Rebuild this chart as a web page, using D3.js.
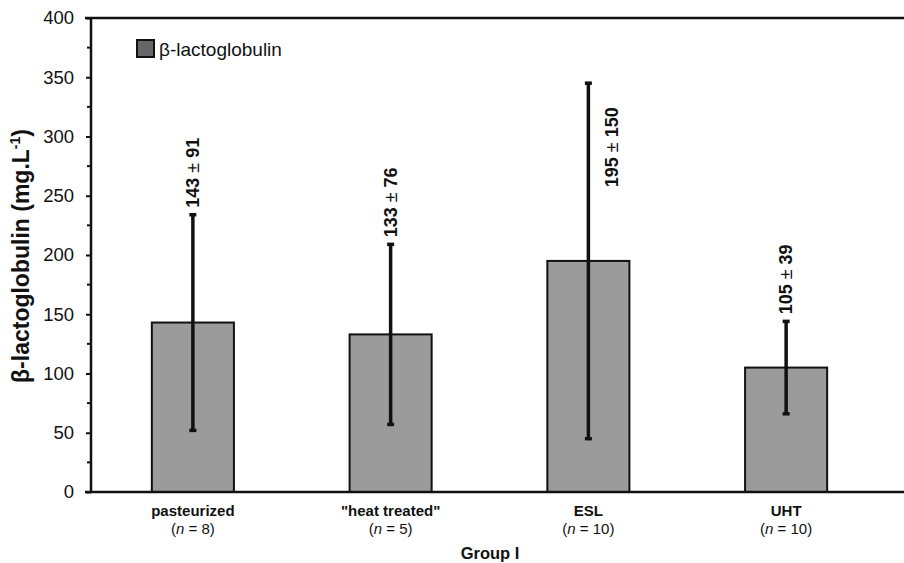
<!DOCTYPE html>
<html>
<head>
<meta charset="utf-8">
<script src="https://cdn.jsdelivr.net/npm/d3@7"></script>
<style>
  body { margin: 0; background: #fff; }
  text { font-family: "Liberation Sans", Arial, sans-serif; }
</style>
</head>
<body>
<div id="chart"></div>
<script>
// data
const categories = ["pasteurized", "\"heat treated\"", "ESL", "UHT"];
const sampleSizes = [8, 5, 10, 10];
const means = [143, 133, 195, 105];
const sds = [91, 76, 150, 39];
const yTicks = [0, 50, 100, 150, 200, 250, 300, 350, 400];

const width = 904, height = 563;
const margin = { top: 18, left: 91, bottom: 71 };

const svg = d3.select("#chart").append("svg")
    .attr("width", width)
    .attr("height", height);

const x = d3.scaleBand()
    .domain(categories)
    .range([94, 885])
    .paddingInner(0.585)
    .paddingOuter(0.2925);

const y = d3.scaleLinear()
    .domain([0, 400])
    .range([height - margin.bottom, margin.top]);

// bars
svg.selectAll("rect.bar")
    .data(categories)
    .enter().append("rect")
    .attr("class", "bar")
    .attr("x", d => x(d))
    .attr("y", (d, i) => y(means[i]))
    .attr("width", x.bandwidth())
    .attr("height", (d, i) => y(0) - y(means[i]))
    .attr("fill", "#9b9b9b")
    .attr("stroke", "#111")
    .attr("stroke-width", 2);

// error bars
const err = svg.selectAll("g.err")
    .data(categories)
    .enter().append("g")
    .attr("class", "err")
    .attr("transform", d => `translate(${x(d) + x.bandwidth() / 2},0)`);

err.append("line")
    .attr("y1", (d, i) => y(means[i] - sds[i]))
    .attr("y2", (d, i) => y(means[i] + sds[i]))
    .attr("stroke", "#111")
    .attr("stroke-width", 3.5);

[-1, 1].forEach(s => {
    err.append("line")
        .attr("x1", -3.5).attr("x2", 3.5)
        .attr("y1", (d, i) => y(means[i] + s * sds[i]))
        .attr("y2", (d, i) => y(means[i] + s * sds[i]))
        .attr("stroke", "#111")
        .attr("stroke-width", 3.5);
});

// value labels (rotated); a very tall bar gets its label beside the line
const vl = err.append("text")
    .attr("transform", (d, i) => {
        const top = means[i] + sds[i];
        if (top > 300) return `translate(23,${y(top) + 104}) rotate(-90)`;
        return `translate(0,${y(top) - 7}) rotate(-90)`;
    })
    .attr("dy", "0.35em")
    .attr("font-size", 18)
    .attr("font-weight", "bold")
    .attr("fill", "#111");
vl.append("tspan").text((d, i) => `${means[i]} `);
vl.append("tspan").attr("font-weight", "normal").text("\u00b1");
vl.append("tspan").text((d, i) => ` ${sds[i]}`);

// y axis
const yAxis = d3.axisLeft(y)
    .tickValues(yTicks)
    .tickSize(5)
    .tickPadding(12);

const yg = svg.append("g")
    .attr("transform", `translate(${margin.left},0)`)
    .call(yAxis);
yg.select(".domain").remove();
yg.selectAll(".tick line").attr("stroke", "#111").attr("stroke-width", 2);
yg.selectAll(".tick text")
    .attr("font-size", 18.5)
    .attr("fill", "#111")
    .style("font-family", "Liberation Sans, Arial, sans-serif");

// minor ticks
svg.append("g").selectAll("line")
    .data(d3.range(25, 400, 50))
    .enter().append("line")
    .attr("x1", margin.left - 4).attr("x2", margin.left)
    .attr("y1", d => y(d)).attr("y2", d => y(d))
    .attr("stroke", "#111").attr("stroke-width", 2);

// frame lines
svg.append("line")
    .attr("x1", margin.left).attr("x2", margin.left)
    .attr("y1", y(400)).attr("y2", y(0))
    .attr("stroke", "#111").attr("stroke-width", 2.5);
svg.append("line")
    .attr("x1", margin.left - 6).attr("x2", width)
    .attr("y1", y(0)).attr("y2", y(0))
    .attr("stroke", "#111").attr("stroke-width", 2.5);
svg.append("line")
    .attr("x1", margin.left - 6).attr("x2", width)
    .attr("y1", y(400)).attr("y2", y(400))
    .attr("stroke", "#111").attr("stroke-width", 2.5);

// category labels
const xl = svg.selectAll("g.xlab")
    .data(categories)
    .enter().append("g")
    .attr("class", "xlab")
    .attr("transform", d => `translate(${x(d) + x.bandwidth() / 2},0)`);

xl.append("text")
    .attr("y", 516)
    .attr("text-anchor", "middle")
    .attr("font-size", 15)
    .attr("font-weight", "bold")
    .attr("fill", "#111")
    .text(d => d);

const nt = xl.append("text")
    .attr("y", 534)
    .attr("text-anchor", "middle")
    .attr("font-size", 15)
    .attr("fill", "#111");
nt.append("tspan").text("(");
nt.append("tspan").attr("font-style", "italic").text("n");
nt.append("tspan").text((d, i) => ` = ${sampleSizes[i]})`);

svg.append("text")
    .attr("x", 490).attr("y", 559)
    .attr("text-anchor", "middle")
    .attr("font-size", 16.5)
    .attr("font-weight", "bold")
    .attr("fill", "#111")
    .text("Group I");

// y title
const yt = svg.append("text")
    .attr("transform", `translate(29,256) rotate(-90)`)
    .attr("text-anchor", "middle")
    .attr("font-size", 23)
    .attr("font-weight", "bold")
    .attr("fill", "#111");
yt.append("tspan").text("\u03b2-lactoglobulin (mg.L");
yt.append("tspan").attr("font-size", 14).attr("dy", -9).text("-1");
yt.append("tspan").attr("dy", 9).text(")");

// legend
svg.append("rect")
    .attr("x", 137).attr("y", 40)
    .attr("width", 17).attr("height", 17)
    .attr("fill", "#666")
    .attr("stroke", "#111")
    .attr("stroke-width", 2);
svg.append("text")
    .attr("x", 159).attr("y", 56)
    .attr("font-size", 19)
    .attr("fill", "#111")
    .text("\u03b2-lactoglobulin");
</script>
</body>
</html>
